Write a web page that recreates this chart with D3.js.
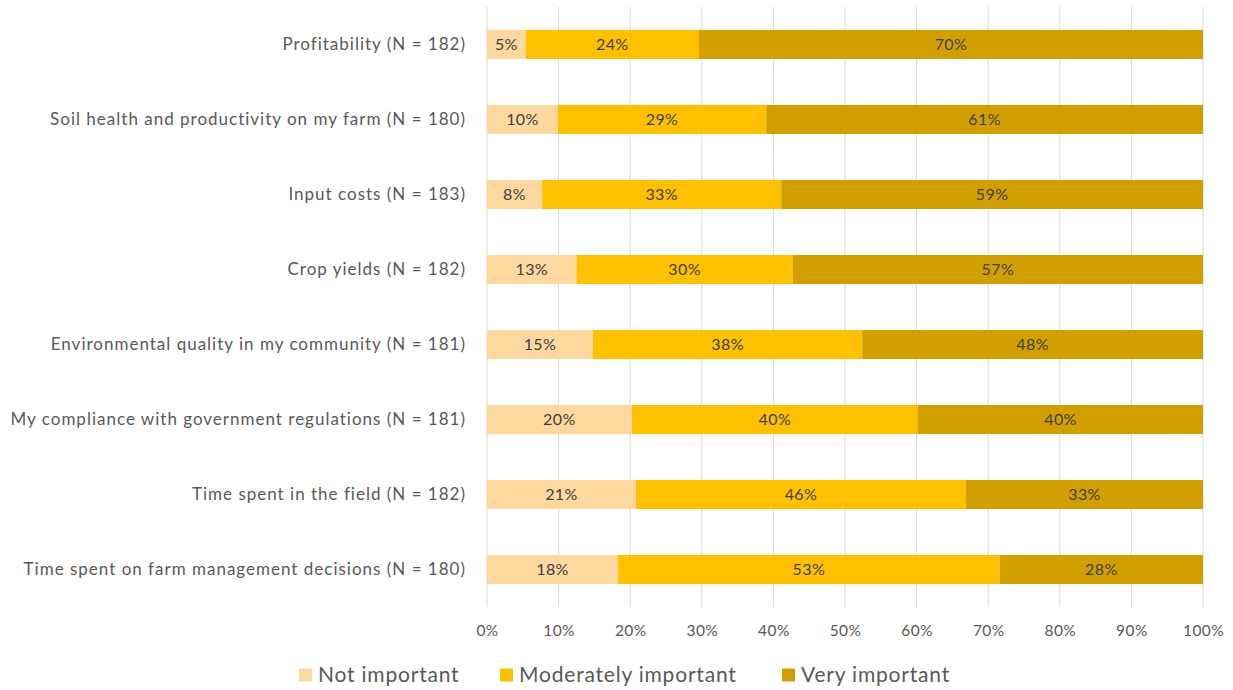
<!DOCTYPE html>
<html>
<head>
<meta charset="utf-8">
<script src="https://cdn.jsdelivr.net/npm/d3@7"></script>
<style>
  html, body { margin: 0; padding: 0; background: #fff; }
  svg { display: block; font-family: Lato, "Open Sans", sans-serif; }
</style>
</head>
<body>
<svg id="chart" width="1233" height="690"></svg>
<script>
// Survey items, top to bottom
const categories = [
  "Profitability (N = 182)",
  "Soil health and productivity on my farm (N = 180)",
  "Input costs (N = 183)",
  "Crop yields (N = 182)",
  "Environmental quality in my community (N = 181)",
  "My compliance with government regulations (N = 181)",
  "Time spent in the field (N = 182)",
  "Time spent on farm management decisions (N = 180)"
];

// Share of respondents (%) per importance level
const notImportant        = [5.4, 9.9, 7.7, 12.5, 14.8, 20.2, 20.8, 18.3];
const moderatelyImportant = [24.2, 29.1, 33.4, 30.2, 37.6, 40.0, 46.1, 53.3];
const veryImportant       = [70.4, 61.0, 58.9, 57.3, 47.6, 39.8, 33.1, 28.4];

const seriesNames = ["Not important", "Moderately important", "Very important"];
const seriesColors = ["#FED89F", "#FFC000", "#D29F00"];
const xTicks = [0, 10, 20, 30, 40, 50, 60, 70, 80, 90, 100];

const rows = categories.map((c, i) => ({
  category: c,
  "Not important": notImportant[i],
  "Moderately important": moderatelyImportant[i],
  "Very important": veryImportant[i]
}));

const svg = d3.select("#chart");
const margin = { top: 7, right: 30, bottom: 83, left: 487 };
const width = 1233 - margin.left - margin.right;
const height = 690 - margin.top - margin.bottom;

const g = svg.append("g").attr("transform", `translate(${margin.left},${margin.top})`);

const x = d3.scaleLinear().domain([0, 100]).range([0, width]);
const y = d3.scaleBand().domain(categories).range([0, height]).paddingInner(0.613).paddingOuter(0.306);
const color = d3.scaleOrdinal().domain(seriesNames).range(seriesColors);

// Vertical gridlines
g.append("g")
  .selectAll("line")
  .data(xTicks)
  .join("line")
  .attr("x1", d => x(d)).attr("x2", d => x(d))
  .attr("y1", 0).attr("y2", height)
  .attr("stroke", "#D9D9D9")
  .attr("stroke-width", 1);

// X axis labels
const xAxis = d3.axisBottom(x).tickValues(xTicks).tickFormat(d => d + "%").tickSize(0).tickPadding(18);
const xa = g.append("g").attr("transform", `translate(0,${height})`).call(xAxis);
xa.select(".domain").remove();
xa.selectAll("text")
  .attr("fill", "#595959")
  .style("font-size", "15.5px")
  .style("letter-spacing", "0.4px")
  .style("font-family", "Lato, sans-serif");

// Category labels
const ya = g.append("g").call(d3.axisLeft(y).tickSize(0).tickPadding(21));
ya.select(".domain").remove();
ya.selectAll("text")
  .attr("fill", "#595959")
  .style("font-size", "17px")
  .style("letter-spacing", "1px")
  .style("font-family", "Lato, sans-serif");

// Stacked bars
const stacked = d3.stack().keys(seriesNames)(rows);
const layers = g.append("g")
  .selectAll("g")
  .data(stacked)
  .join("g")
  .attr("fill", d => color(d.key));

layers.selectAll("rect")
  .data(d => d)
  .join("rect")
  .attr("x", d => x(d[0]))
  .attr("width", d => x(d[1]) - x(d[0]))
  .attr("y", d => y(d.data.category))
  .attr("height", y.bandwidth());

// Value labels
layers.selectAll("text")
  .data(d => d.map(v => ({ v, key: d.key })))
  .join("text")
  .attr("x", d => (x(d.v[0]) + x(d.v[1])) / 2)
  .attr("y", d => y(d.v.data.category) + y.bandwidth() / 2)
  .attr("dy", "0.35em")
  .attr("text-anchor", "middle")
  .attr("fill", "#404040")
  .style("font-size", "16px")
  .style("letter-spacing", "0.4px")
  .text(d => Math.round(d.v.data[d.key]) + "%");

// Legend
const legendItems = [
  { name: seriesNames[0], x: 299 },
  { name: seriesNames[1], x: 500 },
  { name: seriesNames[2], x: 782 }
];
const legend = svg.append("g").attr("transform", "translate(0,675)");
const li = legend.selectAll("g").data(legendItems).join("g")
  .attr("transform", d => `translate(${d.x},0)`);
li.append("rect")
  .attr("x", 0).attr("y", -6.5)
  .attr("width", 13).attr("height", 13)
  .attr("fill", d => color(d.name));
li.append("text")
  .attr("x", 19).attr("dy", "0.35em")
  .attr("fill", "#595959")
  .style("font-size", "21px")
  .style("letter-spacing", "0.8px")
  .text(d => d.name);
</script>
</body>
</html>
